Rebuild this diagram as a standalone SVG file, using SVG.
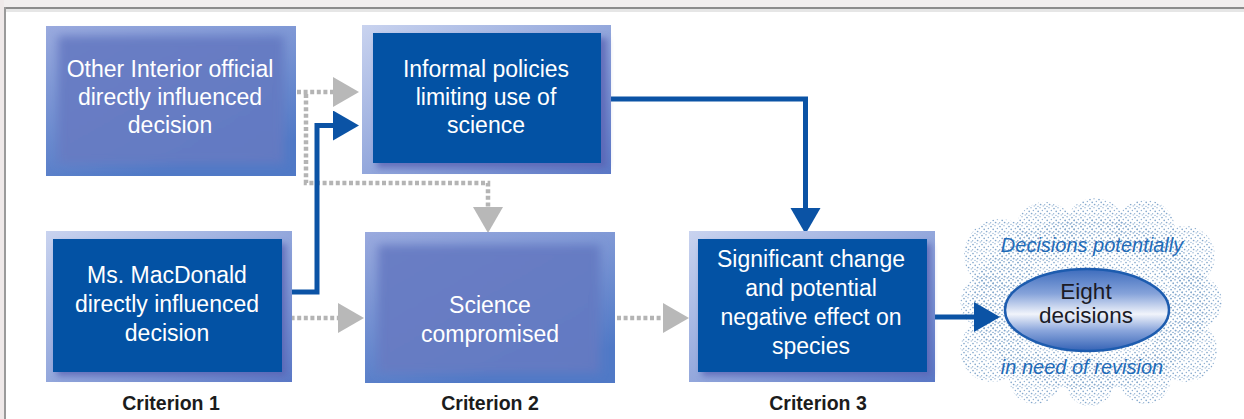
<svg xmlns="http://www.w3.org/2000/svg" width="1244" height="419" viewBox="0 0 1244 419">
<defs>
<style>
.t{font-family:"Liberation Sans",Arial,sans-serif;font-size:23px;fill:#ffffff;text-anchor:middle}
.crit{font-family:"Liberation Sans",Arial,sans-serif;font-size:19.5px;font-weight:bold;fill:#1c1c1c;text-anchor:middle}
.cl{font-family:"Liberation Sans",Arial,sans-serif;font-size:20px;font-style:italic;fill:#1f6bb8;text-anchor:middle}
.el{font-family:"Liberation Sans",Arial,sans-serif;font-size:22.5px;fill:#1b1b26;text-anchor:middle}
.blue{fill:none;stroke:#0b53a5;stroke-width:5}
.gray{fill:none;stroke:#b4b4b4;stroke-width:4.5;stroke-dasharray:4 2.6}
.inner{fill:#0352a4}
</style>
<linearGradient id="gOuter" x1="0" y1="0" x2="1" y2="1">
<stop offset="0" stop-color="#c9d3ef"/>
<stop offset="0.55" stop-color="#8ea3da"/>
<stop offset="1" stop-color="#5a78c6"/>
</linearGradient>
<linearGradient id="gLight" x1="0" y1="0" x2="0.4" y2="1">
<stop offset="0" stop-color="#9aaade"/>
<stop offset="1" stop-color="#5079c6"/>
</linearGradient>
<linearGradient id="gLightIn" x1="0" y1="0" x2="1" y2="1">
<stop offset="0" stop-color="#6a7ec4"/>
<stop offset="1" stop-color="#6279c2"/>
</linearGradient>
<linearGradient id="gEll" x1="0" y1="0" x2="0" y2="1">
<stop offset="0" stop-color="#3d6cbd"/>
<stop offset="0.3" stop-color="#86a3da"/>
<stop offset="0.55" stop-color="#f1f4fb"/>
<stop offset="0.75" stop-color="#8ba6dc"/>
<stop offset="1" stop-color="#3563b6"/>
</linearGradient>
<filter id="blur" x="-10%" y="-10%" width="120%" height="120%"><feGaussianBlur stdDeviation="5"/></filter>
<filter id="blur2" x="-10%" y="-10%" width="120%" height="120%"><feGaussianBlur stdDeviation="3"/></filter>
<pattern id="dots" width="9" height="9" patternUnits="userSpaceOnUse">
<circle cx="1" cy="1.5" r="0.85" fill="#86a9cd"/>
<circle cx="5" cy="0.8" r="0.75" fill="#9db9d6"/>
<circle cx="3.2" cy="4.3" r="0.85" fill="#86a9cd"/>
<circle cx="7.4" cy="3.6" r="0.75" fill="#94b3d3"/>
<circle cx="0.6" cy="6.8" r="0.75" fill="#9db9d6"/>
<circle cx="5.6" cy="6.5" r="0.85" fill="#86a9cd"/>
<circle cx="8.2" cy="8" r="0.65" fill="#9db9d6"/>
<circle cx="3" cy="8.4" r="0.65" fill="#94b3d3"/>
</pattern>
<marker id="ab" markerUnits="userSpaceOnUse" markerWidth="28" markerHeight="32" refX="0" refY="15" orient="auto">
<path d="M0,0 L26,15 L0,30 Z" fill="#0b53a5"/>
</marker>
<marker id="ag" markerUnits="userSpaceOnUse" markerWidth="28" markerHeight="32" refX="0" refY="15" orient="auto">
<path d="M0,0 L26,15 L0,30 Z" fill="#b8b8b8"/>
</marker>
</defs>

<rect x="0" y="0" width="1244" height="419" fill="#ffffff"/>
<rect x="0" y="0" width="1244" height="7" fill="#f1eeee"/>
<rect x="0" y="0" width="4" height="419" fill="#efe9e9"/>
<rect x="6" y="9" width="1238" height="3" fill="#e6e6e6"/>
<rect x="4" y="7" width="1240" height="2" fill="#8c8c8c"/>
<rect x="4" y="7" width="2" height="412" fill="#9a9a9a"/>

<g id="cloud">
<g fill="url(#dots)">
<ellipse cx="1090" cy="304" rx="118" ry="86"/>
<circle cx="1000" cy="255" r="36"/>
<circle cx="1045" cy="232" r="30"/>
<circle cx="1095" cy="228" r="30"/>
<circle cx="1145" cy="230" r="30"/>
<circle cx="1185" cy="256" r="30"/>
<circle cx="1195" cy="302" r="27"/>
<circle cx="1185" cy="350" r="32"/>
<circle cx="1145" cy="378" r="26"/>
<circle cx="1090" cy="382" r="24"/>
<circle cx="1035" cy="378" r="26"/>
<circle cx="992" cy="350" r="32"/>
<circle cx="987" cy="302" r="27"/>
</g>
<text class="cl" x="1092" y="252">Decisions potentially</text>
<text class="cl" x="1082" y="374">in need of revision</text>
</g>

<g id="connectors">
<path class="gray" d="M297,92 H333" marker-end="url(#ag)"/>
<path class="gray" d="M306,94 V183 H488 V207" marker-end="url(#ag)"/>
<path class="blue" d="M282,292 H317 V125.5 H333" marker-end="url(#ab)"/>
<path class="blue" d="M602,99 H805.5 V208" marker-end="url(#ab)"/>
<path class="gray" d="M284,318 H338" marker-end="url(#ag)"/>
<path class="gray" d="M617,318 H663" marker-end="url(#ag)"/>
<path class="blue" d="M927,317 H974" marker-end="url(#ab)"/>
</g>

<g id="nodeA">
<rect x="46" y="26" width="250" height="150" fill="url(#gLight)"/>
<rect x="58" y="36" width="226" height="128" fill="url(#gLightIn)" filter="url(#blur)"/>
<text class="t" x="170" y="77">Other Interior official</text>
<text class="t" x="170" y="105">directly influenced</text>
<text class="t" x="170" y="133">decision</text>
</g>

<g id="nodeB">
<rect x="362" y="25" width="249" height="149" fill="url(#gOuter)"/>
<rect x="377" y="38" width="230" height="130" fill="#5a64b4" opacity="0.8" filter="url(#blur2)"/>
<rect class="inner" x="373" y="33" width="228" height="130"/>
<text class="t" x="486" y="77">Informal policies</text>
<text class="t" x="486" y="105">limiting use of</text>
<text class="t" x="486" y="133">science</text>
</g>

<g id="nodeC">
<rect x="46" y="231" width="246" height="151" fill="url(#gOuter)"/>
<rect x="57" y="244" width="229" height="132" fill="#5a64b4" opacity="0.8" filter="url(#blur2)"/>
<rect class="inner" x="53" y="239" width="229" height="133"/>
<text class="t" x="167" y="283">Ms. MacDonald</text>
<text class="t" x="167" y="312">directly influenced</text>
<text class="t" x="167" y="341">decision</text>
</g>

<g id="nodeD">
<rect x="365" y="232" width="250" height="151" fill="url(#gLight)"/>
<rect x="378" y="245" width="222" height="128" fill="url(#gLightIn)" filter="url(#blur)"/>
<text class="t" x="490" y="313">Science</text>
<text class="t" x="490" y="342">compromised</text>
</g>

<g id="nodeE">
<rect x="689" y="231" width="246" height="151" fill="url(#gOuter)"/>
<rect x="702" y="244" width="229" height="132" fill="#5a64b4" opacity="0.8" filter="url(#blur2)"/>
<rect class="inner" x="698" y="239" width="229" height="133"/>
<text class="t" x="811" y="267">Significant change</text>
<text class="t" x="811" y="296">and potential</text>
<text class="t" x="811" y="325">negative effect on</text>
<text class="t" x="811" y="354">species</text>
</g>

<g id="nodeEight">
<ellipse cx="1087" cy="310" rx="82" ry="41" fill="url(#gEll)" stroke="#1d5caf" stroke-width="2.5"/>
<text class="el" x="1086" y="299">Eight</text>
<text class="el" x="1086" y="323">decisions</text>
</g>

<g id="criteria">
<text class="crit" x="171" y="410">Criterion 1</text>
<text class="crit" x="490" y="410">Criterion 2</text>
<text class="crit" x="818" y="410">Criterion 3</text>
</g>
</svg>
